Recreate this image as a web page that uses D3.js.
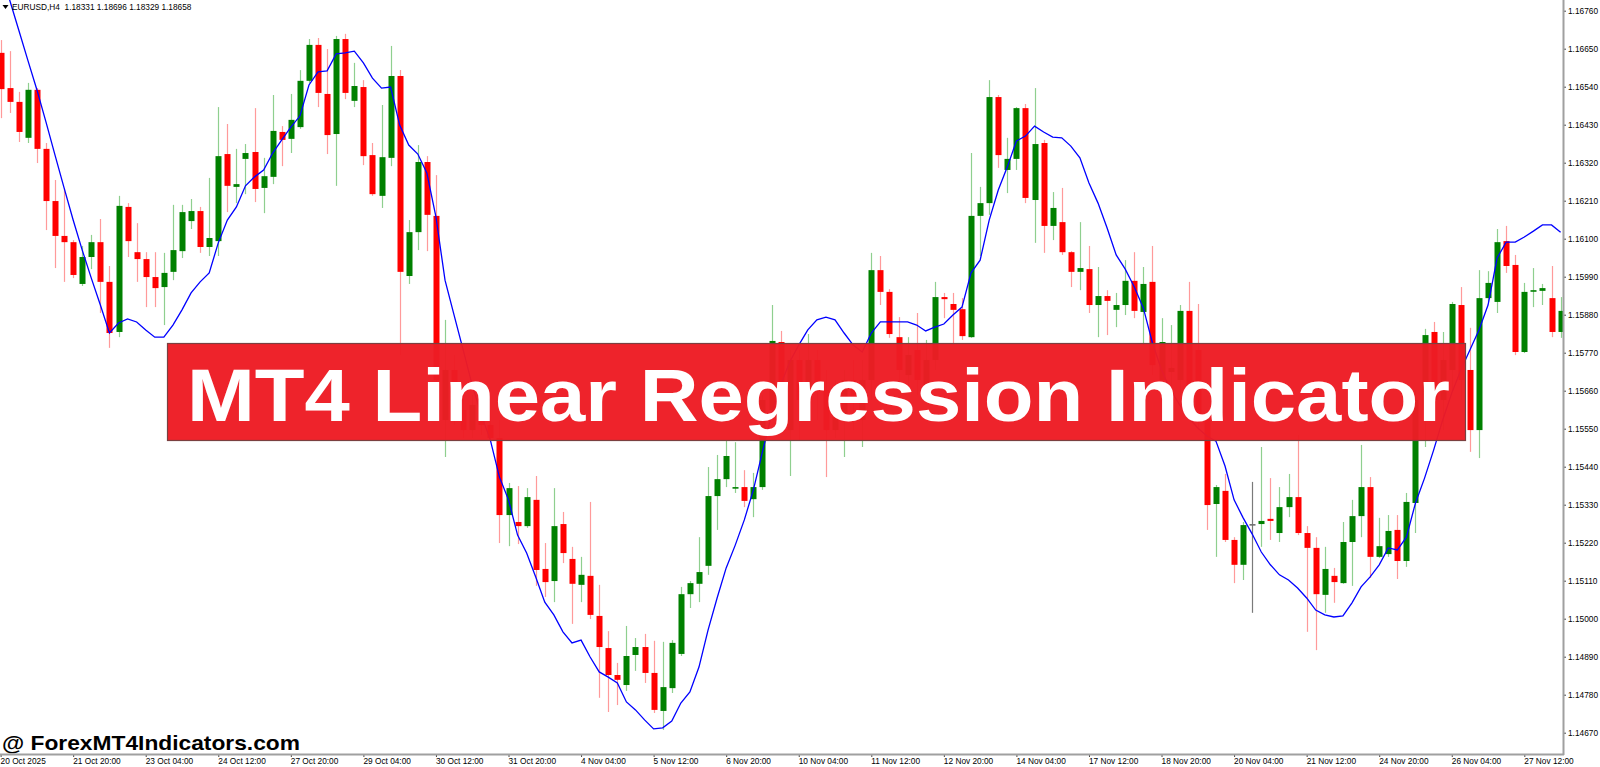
<!DOCTYPE html>
<html><head><meta charset="utf-8">
<script src="https://cdn.jsdelivr.net/npm/d3@7/dist/d3.min.js"></script>
<style>html,body{margin:0;padding:0;background:#fff;overflow:hidden}</style>
</head><body>
<svg id="c" width="1600" height="767"></svg>
<script>
// ---- data (EURUSD, H4) ----
const symbolInfo = "EURUSD,H4  1.18331 1.18696 1.18329 1.18658";
const open = [1.16638,1.16536,1.16496,1.16392,1.16531,1.16360,1.16209,1.16108,1.16090,1.15969,
1.16047,1.16090,1.15975,1.15830,1.16192,1.16061,1.16041,1.15989,1.15960,1.16004,
1.16064,1.16151,1.16180,1.16076,1.16093,1.16345,1.16250,1.16331,1.16351,1.16247,
1.16279,1.16409,1.16389,1.16423,1.16557,1.16661,1.16519,1.16403,1.16678,1.16499,
1.16539,1.16342,1.16224,1.16334,1.16571,1.15992,1.16119,1.16322,1.16166,1.15575,
1.15720,1.15604,1.15546,1.15619,1.15561,1.15523,1.15300,1.15280,1.15268,1.15344,
1.15144,1.15109,1.15274,1.15173,1.15098,1.15124,1.15008,1.14915,1.14837,1.14808,
1.14895,1.14918,1.14843,1.14733,1.14799,1.14898,1.15071,1.15101,1.15153,1.15355,
1.15404,1.15378,1.15381,1.15346,1.15381,1.15604,1.15801,1.15546,1.15749,1.15633,
1.15749,1.15662,1.15546,1.15575,1.15691,1.15575,1.15691,1.16009,1.15946,1.15815,
1.15705,1.15778,1.15676,1.15749,1.15931,1.15911,1.15896,1.15815,1.16166,1.16203,
1.16510,1.16299,1.16331,1.16478,1.16212,1.16377,1.16137,1.16148,1.16061,1.16004,
1.16012,1.15908,1.15934,1.15894,1.15908,1.15978,1.15888,1.15975,1.15691,1.15714,
1.15691,1.15891,1.15778,1.15575,1.15332,1.15370,1.15228,1.15156,1.15274,1.15274,
1.15289,1.15248,1.15323,1.15352,1.15248,1.15205,1.15069,1.15124,1.15103,1.15222,
1.15297,1.15381,1.15179,1.15187,1.15257,1.15167,1.15335,1.15604,1.15830,1.15633,
1.15720,1.15908,1.15720,1.15546,1.15928,1.15917,1.16093,1.16024,1.15772,1.15949,
1.15949,1.15928,1.15830];
const high = [1.16675,1.16643,1.16525,1.16551,1.16536,1.16377,1.16270,1.16244,1.16096,1.16079,
1.16111,1.16157,1.16021,1.16224,1.16203,1.16145,1.16061,1.16061,1.16059,1.16198,
1.16198,1.16215,1.16192,1.16276,1.16481,1.16432,1.16360,1.16374,1.16478,1.16334,
1.16516,1.16426,1.16519,1.16588,1.16678,1.16681,1.16649,1.16687,1.16693,1.16609,
1.16559,1.16377,1.16487,1.16658,1.16588,1.16154,1.16371,1.16339,1.16284,1.15865,
1.15763,1.15648,1.15648,1.15691,1.15604,1.15575,1.15393,1.15384,1.15378,1.15413,
1.15219,1.15378,1.15309,1.15208,1.15179,1.15338,1.15098,1.14964,1.14872,1.14979,
1.14944,1.14956,1.14936,1.14933,1.14938,1.15092,1.15109,1.15236,1.15439,1.15474,
1.15517,1.15511,1.15430,1.15422,1.15648,1.15908,1.15833,1.15778,1.15778,1.15824,
1.15778,1.15720,1.15691,1.15720,1.15749,1.15749,1.16059,1.16050,1.15954,1.15873,
1.15815,1.15885,1.15807,1.15975,1.15943,1.15943,1.15928,1.16348,1.16250,1.16559,
1.16516,1.16392,1.16481,1.16490,1.16536,1.16386,1.16235,1.16247,1.16064,1.16148,
1.16079,1.16018,1.15951,1.15943,1.16038,1.16061,1.16018,1.16079,1.15870,1.15850,
1.15908,1.15975,1.15911,1.15604,1.15387,1.15419,1.15236,1.15280,1.15396,1.15497,
1.15407,1.15381,1.15419,1.15532,1.15268,1.15236,1.15208,1.15147,1.15280,1.15344,
1.15503,1.15410,1.15292,1.15300,1.15300,1.15364,1.15662,1.15839,1.15859,1.15830,
1.15917,1.15960,1.15842,1.16009,1.16006,1.16128,1.16137,1.16053,1.15972,1.16015,
1.15969,1.16021,1.15931];
const low = [1.16449,1.16464,1.16380,1.16377,1.16319,1.16125,1.16015,1.15975,1.15986,1.15963,
1.16012,1.15885,1.15784,1.15815,1.16047,1.15975,1.15902,1.15902,1.15850,1.15980,
1.16044,1.16128,1.16059,1.16050,1.16050,1.16177,1.16203,1.16229,1.16206,1.16174,
1.16258,1.16310,1.16348,1.16418,1.16551,1.16481,1.16345,1.16253,1.16504,1.16481,
1.16313,1.16224,1.16189,1.16310,1.15763,1.15969,1.16067,1.16064,1.15648,1.15468,
1.15561,1.15523,1.15523,1.15532,1.15517,1.15219,1.15210,1.15216,1.15263,1.15095,
1.15063,1.15048,1.15161,1.14985,1.15048,1.14999,1.14771,1.14730,1.14750,1.14791,
1.14849,1.14814,1.14727,1.14678,1.14785,1.14892,1.15031,1.15048,1.15127,1.15257,
1.15381,1.15364,1.15323,1.15294,1.15373,1.15590,1.15633,1.15413,1.15517,1.15604,
1.15575,1.15410,1.15523,1.15468,1.15546,1.15497,1.15633,1.15908,1.15813,1.15676,
1.15662,1.15648,1.15633,1.15720,1.15870,1.15798,1.15807,1.15813,1.16050,1.16169,
1.16305,1.16232,1.16299,1.16203,1.16088,1.16059,1.16096,1.16053,1.15960,1.15951,
1.15885,1.15815,1.15821,1.15844,1.15879,1.15870,1.15792,1.15705,1.15662,1.15648,
1.15648,1.15604,1.15546,1.15257,1.15179,1.15222,1.15103,1.15112,1.15017,1.15208,
1.15228,1.15222,1.15294,1.15242,1.14962,1.14909,1.15017,1.15046,1.15101,1.15095,
1.15236,1.15118,1.15176,1.15179,1.15115,1.15150,1.15248,1.15497,1.15575,1.15546,
1.15662,1.15633,1.15483,1.15465,1.15917,1.15885,1.16001,1.15763,1.15769,1.15902,
1.15908,1.15815,1.15813];
const close = [1.16533,1.16496,1.16409,1.16531,1.16360,1.16209,1.16108,1.16090,1.15995,1.16047,
1.16090,1.15975,1.15827,1.16195,1.16093,1.16041,1.15989,1.15957,1.16001,1.16067,
1.16177,1.16180,1.16076,1.16102,1.16339,1.16253,1.16258,1.16348,1.16244,1.16281,
1.16412,1.16386,1.16444,1.16557,1.16661,1.16522,1.16400,1.16678,1.16522,1.16542,
1.16339,1.16229,1.16336,1.16571,1.16004,1.16119,1.16322,1.16169,1.15691,1.15720,
1.15604,1.15546,1.15619,1.15561,1.15523,1.15300,1.15378,1.15268,1.15352,1.15141,
1.15106,1.15268,1.15190,1.15101,1.15127,1.15011,1.14918,1.14837,1.14823,1.14892,
1.14918,1.14843,1.14736,1.14802,1.14930,1.15071,1.15103,1.15135,1.15355,1.15404,
1.15471,1.15381,1.15341,1.15381,1.15633,1.15804,1.15676,1.15749,1.15633,1.15749,
1.15662,1.15546,1.15648,1.15691,1.15633,1.15691,1.16009,1.15946,1.15824,1.15720,
1.15763,1.15691,1.15749,1.15931,1.15925,1.15894,1.15818,1.16166,1.16203,1.16510,
1.16342,1.16331,1.16478,1.16218,1.16374,1.16137,1.16189,1.16061,1.16004,1.16015,
1.15908,1.15934,1.15920,1.15908,1.15978,1.15891,1.15969,1.15734,1.15801,1.15726,
1.15891,1.15662,1.15575,1.15329,1.15381,1.15228,1.15156,1.15271,1.15274,1.15283,
1.15283,1.15323,1.15352,1.15248,1.15205,1.15071,1.15144,1.15106,1.15222,1.15297,
1.15381,1.15179,1.15210,1.15254,1.15167,1.15338,1.15633,1.15821,1.15633,1.15749,
1.15911,1.15691,1.15546,1.15928,1.15972,1.16090,1.16021,1.15772,1.15946,1.15951,
1.15957,1.15830,1.15891];
const linReg = [1.16878,1.16791,1.16704,1.16617,1.16531,1.16438,1.16342,1.16247,1.16154,1.16067,
1.15986,1.15908,1.15827,1.15856,1.15868,1.15859,1.15836,1.15815,1.15815,1.15850,
1.15894,1.15943,1.15975,1.16001,1.16088,1.16154,1.16192,1.16253,1.16279,1.16299,
1.16348,1.16386,1.16423,1.16455,1.16545,1.16583,1.16586,1.16635,1.16638,1.16643,
1.16609,1.16565,1.16536,1.16539,1.16429,1.16371,1.16345,1.16290,1.16163,1.15980,
1.15879,1.15778,1.15676,1.15590,1.15517,1.15410,1.15344,1.15242,1.15190,1.15121,
1.15048,1.15011,1.14962,1.14930,1.14938,1.14889,1.14846,1.14831,1.14814,1.14759,
1.14736,1.14707,1.14681,1.14684,1.14704,1.14756,1.14788,1.14860,1.14967,1.15060,
1.15147,1.15213,1.15286,1.15373,1.15483,1.15590,1.15676,1.15743,1.15792,1.15836,
1.15865,1.15873,1.15865,1.15827,1.15792,1.15772,1.15827,1.15859,1.15859,1.15859,
1.15859,1.15850,1.15833,1.15844,1.15853,1.15879,1.15902,1.16001,1.16038,1.16154,
1.16241,1.16308,1.16383,1.16397,1.16426,1.16409,1.16394,1.16392,1.16368,1.16334,
1.16261,1.16203,1.16131,1.16053,1.16012,1.15960,1.15899,1.15798,1.15720,1.15662,
1.15619,1.15581,1.15552,1.15529,1.15514,1.15442,1.15344,1.15292,1.15245,1.15193,
1.15156,1.15127,1.15112,1.15089,1.15060,1.15025,1.15011,1.15005,1.15008,1.15046,
1.15092,1.15121,1.15156,1.15205,1.15199,1.15236,1.15335,1.15407,1.15488,1.15575,
1.15653,1.15720,1.15778,1.15836,1.15908,1.16044,1.16090,1.16090,1.16105,1.16122,
1.16140,1.16140,1.16119];
const priceTicks = ["1.16760","1.16650","1.16540","1.16430","1.16320","1.16210","1.16100","1.15990","1.15880","1.15770",
"1.15660","1.15550","1.15440","1.15330","1.15220","1.15110","1.15000","1.14890","1.14780","1.14670"];
const timeLabels = ["20 Oct 2025","21 Oct 20:00","23 Oct 04:00","24 Oct 12:00","27 Oct 20:00","29 Oct 04:00",
"30 Oct 12:00","31 Oct 20:00","4 Nov 04:00","5 Nov 12:00","6 Nov 20:00","10 Nov 04:00","11 Nov 12:00",
"12 Nov 20:00","14 Nov 04:00","17 Nov 12:00","18 Nov 20:00","20 Nov 04:00","21 Nov 12:00","24 Nov 20:00",
"26 Nov 04:00","27 Nov 12:00"];
const timeLabelBars = [0,8,16,24,32,40,48,56,64,72,80,88,96,104,112,120,128,136,144,152,160,168];
const bannerTitle = "MT4 Linear Regression Indicator";
const watermark = "@ ForexMT4Indicators.com";

// ---- layout ----
const plotRight = 1563, plotBottom = 754;
const svg = d3.select("#c");
const n = open.length;
const x = d3.scaleLinear().domain([0, n - 1]).range([0.6, 1560.6]);
const y = d3.scaleLinear().domain([1.14670, 1.16760]).range([732.7, 10.7]);
const FONT = "'Liberation Sans', Arial, sans-serif";

svg.append("defs").append("clipPath").attr("id", "plot")
  .append("rect").attr("x", 0).attr("y", 0).attr("width", plotRight).attr("height", plotBottom);

const g = svg.append("g").attr("clip-path", "url(#plot)");
const bars = d3.range(n).map(i => ({i, o: open[i], h: high[i], l: low[i], c: close[i]}));
const dir = d => d.c > d.o ? "up" : (d.c < d.o ? "down" : "flat");
const wickCol = {up: "#8fcf8f", down: "#ff9a9a", flat: "#7a7a7a"};
const bodyCol = {up: "#008000", down: "#ff0000", flat: "#6f6f6f"};

g.selectAll("line.wick").data(bars).join("line").attr("class", "wick")
  .attr("x1", d => Math.round(x(d.i)) + 0.5).attr("x2", d => Math.round(x(d.i)) + 0.5)
  .attr("y1", d => y(d.h)).attr("y2", d => y(d.l))
  .attr("stroke", d => wickCol[dir(d)]).attr("stroke-width", 1.2);

g.selectAll("rect.body").data(bars).join("rect").attr("class", "body")
  .attr("x", d => Math.round(x(d.i)) - 2.5)
  .attr("width", 6)
  .attr("y", d => y(Math.max(d.o, d.c)))
  .attr("height", d => Math.max(1.6, Math.abs(y(d.o) - y(d.c))))
  .attr("fill", d => bodyCol[dir(d)]);

g.append("path").datum(linReg)
  .attr("d", d3.line().x((d, i) => x(i)).y(d => y(d)))
  .attr("fill", "none").attr("stroke", "#0000ff").attr("stroke-width", 1.3);

// header
svg.append("path").attr("d", "M2.5,5 L8.5,5 L5.5,9 Z").attr("fill", "#000");
svg.append("text").attr("x", 12).attr("y", 9.5).attr("font-family", FONT).attr("font-size", 8.3)
  .attr("fill", "#000").attr("xml:space", "preserve").style("white-space", "pre").text(symbolInfo);

// banner
svg.append("rect").attr("x", 167.5).attr("y", 343.5).attr("width", 1298).attr("height", 97)
  .attr("fill", "#ed1c24").attr("fill-opacity", 0.97).attr("stroke", "#7a4040").attr("stroke-width", 1.2);
svg.append("text").attr("x", 187).attr("y", 421).attr("font-family", FONT).attr("font-weight", "bold")
  .attr("font-size", 74).attr("fill", "#fff").attr("textLength", 1263).attr("lengthAdjust", "spacingAndGlyphs")
  .text(bannerTitle);

// watermark
svg.append("text").attr("x", 2).attr("y", 750).attr("font-family", FONT).attr("font-weight", "bold")
  .attr("font-size", 21).attr("fill", "#000").attr("textLength", 298).attr("lengthAdjust", "spacingAndGlyphs")
  .text(watermark);

// right price axis
const ya = svg.append("g").attr("transform", `translate(${plotRight},0)`)
  .call(d3.axisRight(y).tickValues(priceTicks.map(Number)).tickFormat((d, i) => priceTicks[i]).tickSize(3).tickPadding(2));
ya.select(".domain").remove();
ya.selectAll(".tick line").attr("stroke", "#444");
ya.selectAll(".tick text").attr("font-family", FONT).attr("font-size", 8.3).attr("fill", "#000");

// bottom time axis
const xa = svg.append("g").attr("transform", `translate(0,${plotBottom})`)
  .call(d3.axisBottom(x).tickValues(timeLabelBars).tickFormat((d, i) => timeLabels[i]).tickSize(3).tickPadding(1));
xa.select(".domain").remove();
xa.selectAll(".tick line").attr("stroke", "#444");
xa.selectAll(".tick text").attr("font-family", FONT).attr("font-size", 8.3).attr("fill", "#000")
  .attr("text-anchor", "start").attr("dx", -0.5);

// frame lines
svg.append("line").attr("x1", plotRight + 0.5).attr("x2", plotRight + 0.5).attr("y1", 0).attr("y2", plotBottom + 1)
  .attr("stroke", "#a0a0a0").attr("stroke-width", 2);
svg.append("line").attr("x1", 0).attr("x2", plotRight + 1).attr("y1", plotBottom + 0.5).attr("y2", plotBottom + 0.5)
  .attr("stroke", "#a0a0a0").attr("stroke-width", 2);
</script>
</body></html>
